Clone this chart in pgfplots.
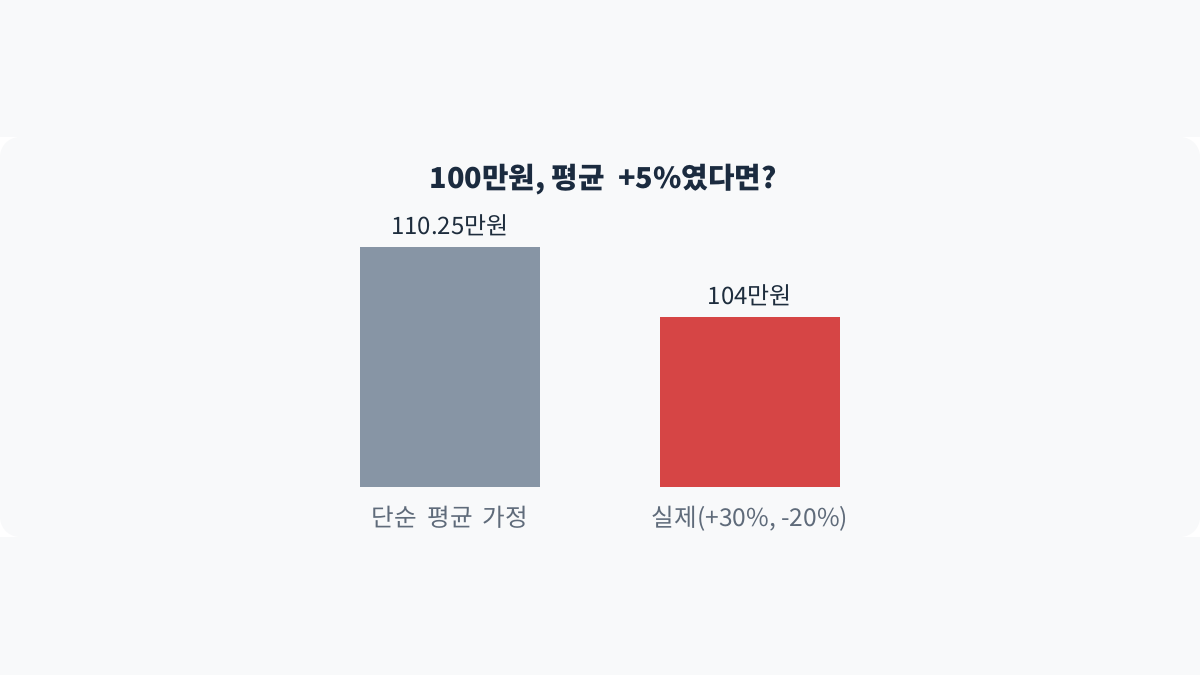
\documentclass[border=0pt]{standalone}
\usepackage{pgfplots}
\pgfplotsset{compat=1.18}
\usepackage{fontspec}
\setmainfont{Noto Sans CJK KR}

\definecolor{bgc}{HTML}{F8F9FA}
\definecolor{barA}{HTML}{8795A5}
\definecolor{barB}{HTML}{D64545}
\definecolor{titlec}{HTML}{1B2B3F}
\definecolor{valc}{HTML}{1E2D3D}
\definecolor{catc}{HTML}{5F6B7A}

\pgfplotstableread{
x y label
0 110.25 {110.25만원}
}\simple
\pgfplotstableread{
x y label
1 104 {104만원}
}\actual

\begin{document}
\begin{tikzpicture}[x=0.5pt,y=0.5pt]
% page and panel, in pixels (origin bottom left)
\fill[bgc] (0,0) rectangle (1200,675);
\fill[white] (0,138) rectangle (1200,538);
\fill[bgc, rounded corners=10pt] (0,138) rectangle (1200,538);

\node[font=\bfseries\fontsize{14.4}{17}\selectfont, text=titlec] at (603,495) {100만원, 평균 \ +5\%였다면?};

\coordinate (origin) at (300,188);
\begin{axis}[
    at={(origin)}, anchor=south west,
    scale only axis,
    width=300pt, height=146.6pt,
    xmin=-0.5, xmax=1.5,
    ymin=88.8214, ymax=115,
    axis x line=bottom,
    hide y axis,
    x axis line style={draw=none, -},
    ybar, bar width=90pt, bar shift=0pt,
    xtick={0,1},
    xticklabels={{단순\hspace{0.42em}평균\hspace{0.42em}가정}, {실제(+30\%, -20\%)}},
    xticklabel style={anchor=north, inner sep=0pt, yshift=-9.5pt, font=\fontsize{12.3}{14}\selectfont, text=catc},
    major tick length=0pt,
    ytick=\empty,
    clip=false,
    nodes near coords,
    point meta=explicit symbolic,
    nodes near coords style={anchor=south, inner sep=0pt, yshift=5.5pt, font=\fontsize{12}{14}\selectfont, text=valc},
    ]
\addplot[draw=none, fill=barA] table[x=x, y=y, meta=label] {\simple};
\addplot[draw=none, fill=barB] table[x=x, y=y, meta=label] {\actual};
\end{axis}
\end{tikzpicture}
\end{document}
